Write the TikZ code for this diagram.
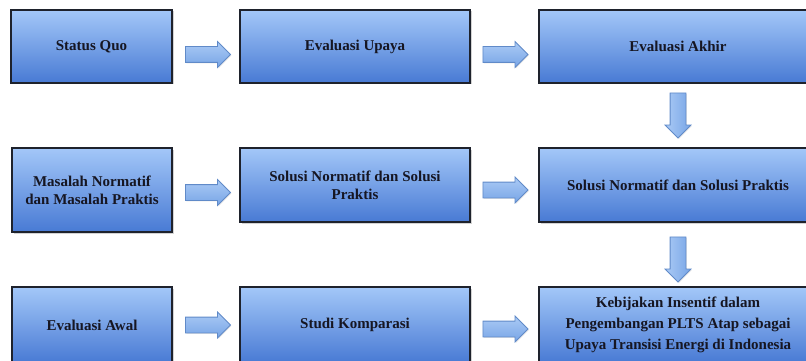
\documentclass[tikz,border=0pt]{standalone}
\usepackage{fontspec}
\setmainfont{Liberation Serif}
\usepackage{tikz}
\usetikzlibrary{calc,shapes.arrows,shadows}
\definecolor{boxtop}{RGB}{163,199,248}
\definecolor{boxmid}{RGB}{118,163,236}
\definecolor{boxbot}{RGB}{72,122,212}
\definecolor{boxline}{RGB}{30,34,44}
\definecolor{arrowtop}{RGB}{170,202,245}
\definecolor{arrowbot}{RGB}{120,165,230}
\definecolor{arrowline}{RGB}{96,138,200}
\definecolor{textcol}{RGB}{22,22,34}
\tikzstyle{stage} = [draw=boxline, line width=1.2pt, top color=boxtop, middle color=boxmid, bottom color=boxbot, text=textcol, align=center, inner sep=0pt, drop shadow={opacity=0.35, shadow xshift=1.5pt, shadow yshift=-1.5pt}]
\tikzstyle{harrow} = [single arrow, draw=arrowline, line width=0.8pt, top color=arrowtop, bottom color=arrowbot, minimum height=45pt, inner xsep=0pt, inner ysep=7.5pt, single arrow head extend=5pt, drop shadow={opacity=0.2, shadow xshift=1pt, shadow yshift=-1pt}]
\tikzstyle{varrow} = [harrow, shape border rotate=270, inner xsep=7.5pt, inner ysep=0pt, left color=arrowtop, right color=arrowbot]

\begin{document}
\begin{tikzpicture}[x=1pt,y=-1pt,every node/.style={font=\bfseries\fontsize{15}{18}\selectfont}]
    \useasboundingbox (0,0) rectangle (806,361);
    \node[stage, minimum width=161pt, minimum height=73pt] (sq) at (91.5,46.5) {Status Quo};
    \node[stage, minimum width=230pt, minimum height=73pt] (eu) at (355,46.5) {Evaluasi Upaya};
    \node[stage, minimum width=278pt, minimum height=73pt] (ea) at (678,46.5) {Evaluasi Akhir};
    \node[stage, minimum width=160pt, minimum height=84pt] (mn) at (92,190) {Masalah Normatif\\dan Masalah Praktis};
    \node[stage, minimum width=230pt, minimum height=74pt] (sn) at (355,185) {Solusi Normatif dan Solusi\\Praktis};
    \node[stage, minimum width=278pt, minimum height=74pt] (snp) at (678,185) {Solusi Normatif dan Solusi Praktis};
    \node[stage, minimum width=160pt, minimum height=76pt] (ew) at (92,325) {Evaluasi Awal};
    \node[stage, minimum width=230pt, minimum height=76pt] (sk) at (355,325) {Studi Komparasi};
    \node[stage, minimum width=278pt, minimum height=76pt] (kb) at (678,325) {Kebijakan Insentif dalam\\[3pt]Pengembangan PLTS Atap sebagai\\[3pt]Upaya Transisi Energi di Indonesia};
    \node[harrow] (sq-eu) at ($(sq.east)!.5!(eu.west)+(-2,8)$) {};
    \node[harrow] (eu-ea) at ($(eu.east)!.5!(ea.west)+(-3,8)$) {};
    \node[varrow] (ea-snp) at ($(ea.south)!.5!(snp.north)+(0,-4)$) {};
    \node[harrow] (mn-sn) at ($(mn.east)!.5!(sn.west)+(-2,5)$) {};
    \node[harrow] (sn-snp) at ($(sn.east)!.5!(snp.west)+(-3,5)$) {};
    \node[varrow] (snp-kb) at ($(snp.south)!.5!(kb.north)+(0,1)$) {};
    \node[harrow] (ew-sk) at ($(ew.east)!.5!(sk.west)+(-2,0)$) {};
    \node[harrow] (sk-kb) at ($(sk.east)!.5!(kb.west)+(-3,4)$) {};
\end{tikzpicture}
\end{document}
